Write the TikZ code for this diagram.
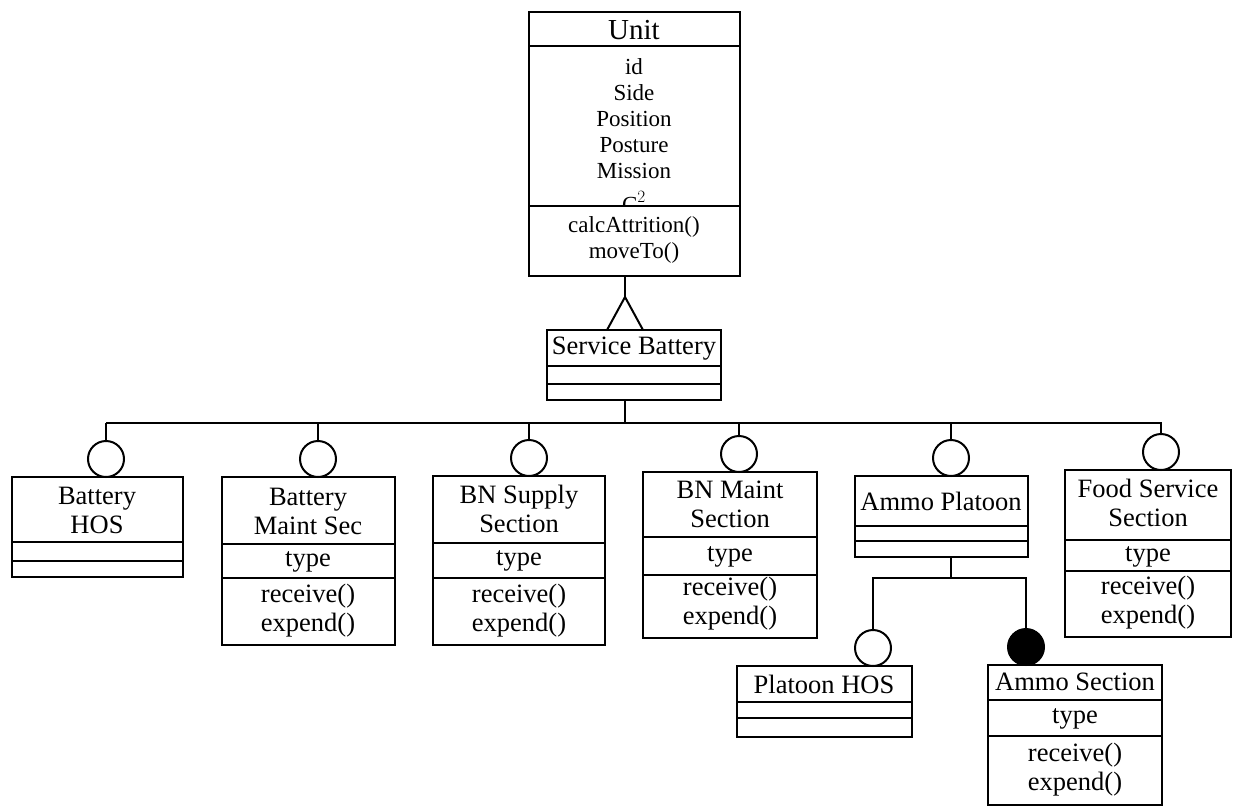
\documentclass[tikz,border=0pt]{standalone}
\usepackage{fontspec}
\setmainfont{Liberation Serif}
\begin{document}
\begin{tikzpicture}[x=1pt,y=-1pt,
  every node/.style={inner sep=0pt, outer sep=0pt},
  frame/.style={draw, rectangle, line width=2.2pt, anchor=north west},
  link/.style={line width=2pt},
  knob/.style={draw, circle, line width=2pt, minimum size=36pt},
  fullknob/.style={knob, fill=black},
  head/.style={font=\fontsize{29}{32}\selectfont},
  attr/.style={font=\fontsize{23}{26}\selectfont, align=center},
  txt/.style={font=\fontsize{26.5}{29}\selectfont, align=center}]
\useasboundingbox (0,0) rectangle (1233,807);

% ---------- Unit ----------
\node[frame, minimum width=211pt, minimum height=264pt] (unit) at (529,12) {};
\draw[link] (unit.west |- 0,46) -- (unit.east |- 0,46);
\draw[link] (unit.west |- 0,206) -- (unit.east |- 0,206);
\node[head] (unitT) at (634,30) {Unit};
\node[attr] (unitA) at (634,119) {id\\Side\\Position\\Posture\\Mission};
% last attribute runs under the compartment line: only its top shows
\begin{scope}
  \clip (529,185) rectangle (740,205);
  \node[attr, anchor=base, text height=0pt, text depth=0pt] (unitC) at (634,212) {C$^2$};
\end{scope}
\node[attr] (unitM) at (634,240) {calcAttrition()\\moveTo()};

% ---------- Service Battery ----------
\node[frame, minimum width=174pt, minimum height=70pt] (sb) at (547,330) {};
\draw[link] (sb.west |- 0,366) -- (sb.east |- 0,366);
\draw[link] (sb.west |- 0,384) -- (sb.east |- 0,384);
\node[txt] (sbT) at (634,349) {Service Battery};

% generalisation: Service Battery is a Unit
\coordinate (apex) at (625,297);
\coordinate (triL) at (607,330);
\coordinate (triR) at (643,330);
\draw[link] (unit.south -| apex) -- (apex);
\draw[link, line join=miter] (triL) -- (apex) -- (triR);

% ---------- aggregation bus ----------
\coordinate (busL) at (106,423);
\coordinate (busR) at (1162,423);
\draw[link] (busL) -- (busR);
\draw[link] (sb.south -| apex) -- (apex |- busL);

% ---------- Battery HOS ----------
\node[frame, minimum width=171pt, minimum height=100pt] (bhos) at (12,477) {};
\draw[link] (bhos.west |- 0,542) -- (bhos.east |- 0,542);
\draw[link] (bhos.west |- 0,561) -- (bhos.east |- 0,561);
\node[txt] (bhosT) at (97,510) {Battery\\HOS};
\node[knob] (bhosC) at (106,459) {};
\draw[link] (bhosC.north) -- (bhosC.north |- busL);

% ---------- Battery Maint Sec ----------
\node[frame, minimum width=173pt, minimum height=168pt] (bms) at (222,477) {};
\draw[link] (bms.west |- 0,544) -- (bms.east |- 0,544);
\draw[link] (bms.west |- 0,578) -- (bms.east |- 0,578);
\node[txt] (bmsT) at (308,511) {Battery\\Maint Sec};
\node[txt] (bmsA) at (308,562) {type};
\node[txt] (bmsM) at (308,611) {receive()\\expend()};
\node[knob] (bmsC) at (318,459) {};
\draw[link] (bmsC.north) -- (bmsC.north |- busL);

% ---------- BN Supply Section ----------
\node[frame, minimum width=172pt, minimum height=169pt] (bns) at (433,476) {};
\draw[link] (bns.west |- 0,543) -- (bns.east |- 0,543);
\draw[link] (bns.west |- 0,578) -- (bns.east |- 0,578);
\node[txt] (bnsT) at (519,509) {BN Supply\\Section};
\node[txt] (bnsA) at (519,561) {type};
\node[txt] (bnsM) at (519,611) {receive()\\expend()};
\node[knob] (bnsC) at (529,458) {};
\draw[link] (bnsC.north) -- (bnsC.north |- busL);

% ---------- BN Maint Section ----------
\node[frame, minimum width=174pt, minimum height=166pt] (bnm) at (643,472) {};
\draw[link] (bnm.west |- 0,537) -- (bnm.east |- 0,537);
\draw[link] (bnm.west |- 0,575) -- (bnm.east |- 0,575);
\node[txt] (bnmT) at (730,504) {BN Maint\\Section};
\node[txt] (bnmA) at (730,557) {type};
\node[txt] (bnmM) at (730,604) {receive()\\expend()};
\node[knob] (bnmC) at (739,454) {};
\draw[link] (bnmC.north) -- (bnmC.north |- busL);

% ---------- Ammo Platoon ----------
\node[frame, minimum width=173pt, minimum height=81pt] (ammo) at (855,476) {};
\draw[link] (ammo.west |- 0,526) -- (ammo.east |- 0,526);
\draw[link] (ammo.west |- 0,541) -- (ammo.east |- 0,541);
\node[txt] (ammoT) at (941,501) {Ammo Platoon};
\node[knob] (ammoC) at (951,458) {};
\draw[link] (ammoC.north) -- (ammoC.north |- busL);

% ---------- Food Service Section ----------
\node[frame, minimum width=166pt, minimum height=167pt] (food) at (1065,470) {};
\draw[link] (food.west |- 0,540) -- (food.east |- 0,540);
\draw[link] (food.west |- 0,571) -- (food.east |- 0,571);
\node[txt] (foodT) at (1148,503) {Food Service\\Section};
\node[txt] (foodA) at (1148,557) {type};
\node[txt] (foodM) at (1148,603) {receive()\\expend()};
\node[knob] (foodC) at (1161,452) {};
\draw[link] (foodC.north) -- (foodC.north |- busR);

% ---------- Platoon HOS ----------
\node[frame, minimum width=175pt, minimum height=71pt] (phos) at (737,666) {};
\draw[link] (phos.west |- 0,702) -- (phos.east |- 0,702);
\draw[link] (phos.west |- 0,718) -- (phos.east |- 0,718);
\node[txt] (phosT) at (824,684) {Platoon HOS};
\node[knob] (phosC) at (873,648) {};

% ---------- Ammo Section ----------
\node[frame, minimum width=174pt, minimum height=140pt] (asec) at (988,665) {};
\draw[link] (asec.west |- 0,700) -- (asec.east |- 0,700);
\draw[link] (asec.west |- 0,736) -- (asec.east |- 0,736);
\node[txt] (asecT) at (1075,682) {Ammo Section};
\node[txt] (asecA) at (1075,719) {type};
\node[txt] (asecM) at (1075,770) {receive()\\expend()};
\node[fullknob] (asecC) at (1026,647) {};

% ---------- Ammo Platoon sub-bus ----------
\coordinate (subL) at (873,578);
\coordinate (subR) at (1026,578);
\draw[link] (ammo.south -| ammoC) -- (ammoC |- subL);
\draw[link] (phosC.north) -- (subL) -- (subR) -- (asecC.north);
\end{tikzpicture}
\end{document}
